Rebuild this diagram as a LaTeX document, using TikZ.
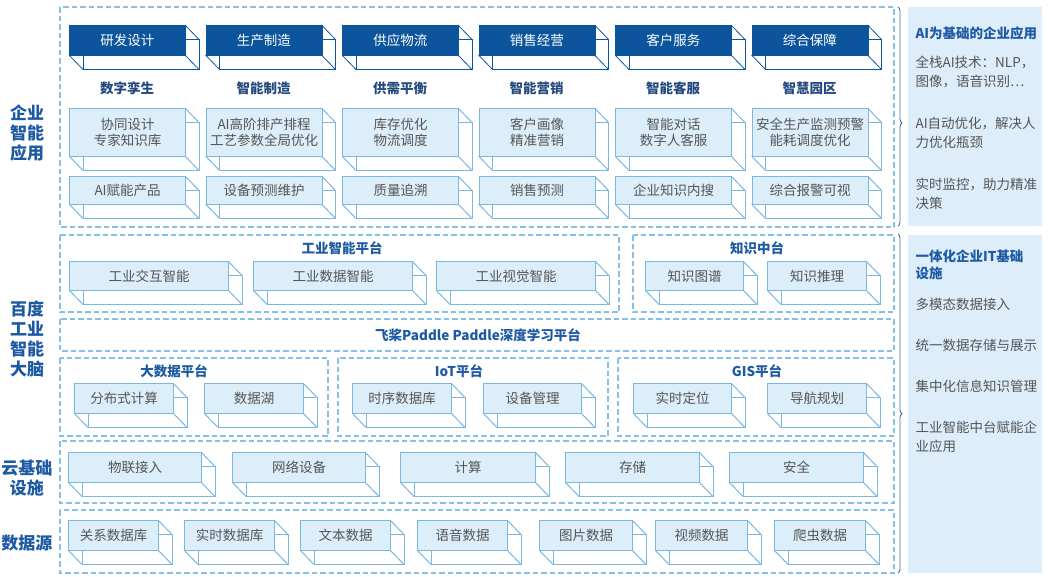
\documentclass[tikz,border=0pt]{standalone}
\usepackage{fontspec}
\setmainfont{Noto Sans CJK SC}
\usetikzlibrary{decorations.pathreplacing}
\definecolor{dkblue}{HTML}{0C559C}
\definecolor{ltfill}{HTML}{DCEEF9}
\definecolor{ltline}{HTML}{7AB8E0}
\definecolor{dashc}{HTML}{86C0E6}
\definecolor{headc}{HTML}{1D5AA3}
\definecolor{subc}{HTML}{24497F}
\definecolor{txtc}{HTML}{555555}
\definecolor{panelc}{HTML}{DDEEFA}
\definecolor{bracec}{HTML}{3D6EA8}
\tikzset{
  darkfront/.style={draw=dkblue, fill=dkblue, line width=0.8pt, text=white, inner sep=0pt,
    font=\fontsize{13.5}{16}\selectfont},
  darkback/.style={draw=dkblue, fill=white, line width=0.8pt},
  litefront/.style={draw=ltline, fill=ltfill, line width=1.2pt, text=txtc, inner sep=0pt, align=center,
    font=\fontsize{13.5}{16}\selectfont},
  liteback/.style={draw=ltline, fill=white, line width=1pt},
  dashbox/.style={draw=dashc, line width=1.2pt, dash pattern=on 5.5pt off 3pt},
  sidelabel/.style={text=headc, font=\fontsize{17}{20}\selectfont\bfseries, align=center},
  subhead/.style={text=subc, font=\fontsize{13.5}{16}\selectfont\bfseries},
  plathead/.style={text=headc, font=\fontsize{13.5}{16}\selectfont\bfseries},
  paneltitle/.style={text=headc, font=\fontsize{13.5}{17}\selectfont\bfseries, anchor=west, align=left},
  paneltext/.style={text=txtc, font=\fontsize{13.5}{19}\selectfont, anchor=west, align=left},
  bracestyle/.style={draw=bracec, line width=0.9pt, decorate,
    decoration={brace, amplitude=4pt, aspect=0.53}},
}
% #1 name, #2 x1, #3 y1, #4 x2, #5 y2, #6 front style, #7 back style, #8 text
\newcommand\cubebox[8]{%
  \pgfmathsetmacro\cbw{#4-#2}\pgfmathsetmacro\cbh{#5-#3}%
  \draw[#7] ({#2+14},{#3+14.5}) rectangle ({#4+14},{#5+14.5});
  \draw[#7] (#4,#3) -- ({#4+14},{#3+14.5}) (#2,#5) -- ({#2+14},{#5+14.5}) (#4,#5) -- ({#4+14},{#5+14.5});
  \node[#6, minimum width=\cbw pt, minimum height=\cbh pt, anchor=north west] (#1) at (#2,#3) {#8};
}
\begin{document}
\begin{tikzpicture}[x=1pt,y=-1pt]
\useasboundingbox (0,0) rectangle (1048,576);
% right panels
\fill[panelc] (908,7) rectangle (1042,226);
\fill[panelc] (908,235) rectangle (1042,573);
% dashed frames
\draw[dashbox] (60,7) rectangle (894,227);
\draw[dashbox] (60,235) rectangle (619,312);
\draw[dashbox] (633,235) rectangle (894,312);
\draw[dashbox] (60,319) rectangle (894,351);
\draw[dashbox] (60,358) rectangle (328,436);
\draw[dashbox] (338,358) rectangle (608,436);
\draw[dashbox] (618,358) rectangle (894,436);
\draw[dashbox] (60,441) rectangle (894,503);
\draw[dashbox] (60,510) rectangle (894,573);
% braces
\coordinate (b1t) at (898,7); \coordinate (b1b) at (898,226);
\coordinate (b2t) at (898,234); \coordinate (b2b) at (898,573);
\draw[bracestyle] (b1t) -- (b1b);
\draw[bracestyle] (b2t) -- (b2b);
% side labels
\node[sidelabel] (lab1) at (27,133) {企业\\智能\\应用};
\node[sidelabel] (lab2) at (27,339) {百度\\工业\\智能\\大脑};
\node[sidelabel] (lab3) at (27,478) {云基础\\设施};
\node[sidelabel] (lab4) at (27,543) {数据源};
% top section: dark boxes
\cubebox{d1}{69}{25}{185}{55}{darkfront}{darkback}{研发设计}
\cubebox{d2}{205.5}{25}{321.5}{55}{darkfront}{darkback}{生产制造}
\cubebox{d3}{342}{25}{458}{55}{darkfront}{darkback}{供应物流}
\cubebox{d4}{478.5}{25}{594.5}{55}{darkfront}{darkback}{销售经营}
\cubebox{d5}{615}{25}{731}{55}{darkfront}{darkback}{客户服务}
\cubebox{d6}{751.5}{25}{867.5}{55}{darkfront}{darkback}{综合保障}
% subheads
\node[subhead] (s1) at (127,88) {数字孪生};
\node[subhead] (s2) at (263.5,88) {智能制造};
\node[subhead] (s3) at (400,88) {供需平衡};
\node[subhead] (s4) at (536.5,88) {智能营销};
\node[subhead] (s5) at (673,88) {智能客服};
\node[subhead] (s6) at (809.5,88) {智慧园区};
% row 1 light boxes
\cubebox{r1a}{69}{108}{185}{156}{litefront}{liteback}{协同设计\\专家知识库}
\cubebox{r1b}{205.5}{108}{321.5}{156}{litefront}{liteback}{AI高阶排产排程\\工艺参数全局优化}
\cubebox{r1c}{342}{108}{458}{156}{litefront}{liteback}{库存优化\\物流调度}
\cubebox{r1d}{478.5}{108}{594.5}{156}{litefront}{liteback}{客户画像\\精准营销}
\cubebox{r1e}{615}{108}{731}{156}{litefront}{liteback}{智能对话\\数字人客服}
\cubebox{r1f}{751.5}{108}{867.5}{156}{litefront}{liteback}{安全生产监测预警\\能耗调度优化}
% row 2 light boxes
\cubebox{r2a}{69}{176}{185}{204}{litefront}{liteback}{AI赋能产品}
\cubebox{r2b}{205.5}{176}{321.5}{204}{litefront}{liteback}{设备预测维护}
\cubebox{r2c}{342}{176}{458}{204}{litefront}{liteback}{质量追溯}
\cubebox{r2d}{478.5}{176}{594.5}{204}{litefront}{liteback}{销售预测}
\cubebox{r2e}{615}{176}{731}{204}{litefront}{liteback}{企业知识内搜}
\cubebox{r2f}{751.5}{176}{867.5}{204}{litefront}{liteback}{综合报警可视}
% industrial intelligence platform
\node[plathead] (p1) at (342,248) {工业智能平台};
\cubebox{i1}{69}{261}{228}{290}{litefront}{liteback}{工业交互智能}
\cubebox{i2}{253}{261}{412}{290}{litefront}{liteback}{工业数据智能}
\cubebox{i3}{436}{261}{595}{290}{litefront}{liteback}{工业视觉智能}
% knowledge center
\node[plathead] (p2) at (757,248) {知识中台};
\cubebox{k1}{645}{261}{743}{290}{litefront}{liteback}{知识图谱}
\cubebox{k2}{767}{261}{866}{290}{litefront}{liteback}{知识推理}
% paddle
\node[plathead] (p3) at (478,335) {飞桨Paddle Paddle深度学习平台};
% big data / IoT / GIS
\node[plathead] (p4) at (174,371) {大数据平台};
\cubebox{g1}{74}{383}{173}{413}{litefront}{liteback}{分布式计算}
\cubebox{g2}{204}{383}{303}{413}{litefront}{liteback}{数据湖}
\node[plathead] (p5) at (459,371) {IoT平台};
\cubebox{t1}{352}{383}{451}{413}{litefront}{liteback}{时序数据库}
\cubebox{t2}{483}{383}{581}{413}{litefront}{liteback}{设备管理}
\node[plathead] (p6) at (757,371) {GIS平台};
\cubebox{m1}{633}{383}{731}{413}{litefront}{liteback}{实时定位}
\cubebox{m2}{767}{383}{866}{413}{litefront}{liteback}{导航规划}
% cloud infrastructure
\cubebox{c1}{68}{452}{201}{482}{litefront}{liteback}{物联接入}
\cubebox{c2}{232}{452}{365}{482}{litefront}{liteback}{网络设备}
\cubebox{c3}{400}{452}{535}{482}{litefront}{liteback}{计算}
\cubebox{c4}{565}{452}{699}{482}{litefront}{liteback}{存储}
\cubebox{c5}{729}{452}{863}{482}{litefront}{liteback}{安全}
% data sources
\cubebox{e1}{68}{520}{158}{550}{litefront}{liteback}{关系数据库}
\cubebox{e2}{184}{520}{274}{550}{litefront}{liteback}{实时数据库}
\cubebox{e3}{300}{520}{390}{550}{litefront}{liteback}{文本数据}
\cubebox{e4}{417}{520}{507}{550}{litefront}{liteback}{语音数据}
\cubebox{e5}{539}{520}{632}{550}{litefront}{liteback}{图片数据}
\cubebox{e6}{655}{520}{747}{550}{litefront}{liteback}{视频数据}
\cubebox{e7}{774}{520}{865}{550}{litefront}{liteback}{爬虫数据}
% right panel texts
\node[paneltitle] (q1) at (912,33) {AI为基础的企业应用};
\node[paneltext] (q2) at (912,72) {全栈AI技术：NLP，\\图像，语音识别⋯};
\node[paneltext] (q3) at (912,133) {AI自动优化，解决人\\力优化瓶颈};
\node[paneltext] (q4) at (912,194) {实时监控，助力精准\\决策};
\node[paneltitle] (q5) at (912,265) {一体化企业IT基础\\设施};
\node[paneltext] (q6) at (912,304) {多模态数据接入};
\node[paneltext] (q7) at (912,345) {统一数据存储与展示};
\node[paneltext] (q8) at (912,386) {集中化信息知识管理};
\node[paneltext] (q9) at (912,437) {工业智能中台赋能企\\业应用};
\end{tikzpicture}
\end{document}
